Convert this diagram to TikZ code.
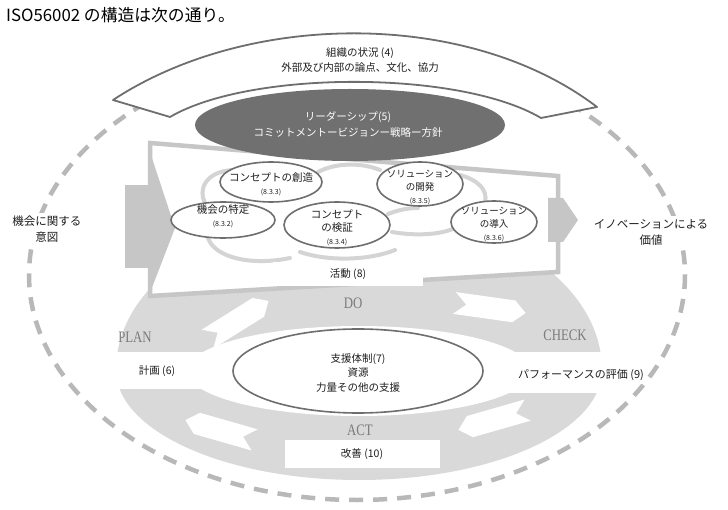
\documentclass[tikz,border=0pt]{standalone}
\usepackage{fontspec}
\setmainfont{Noto Sans CJK JP}
\newfontfamily\pdcafont[FakeStretch=0.8]{Liberation Serif}
\usetikzlibrary{positioning,calc}

\definecolor{dashgray}{HTML}{B8B8B8}
\definecolor{ringgray}{HTML}{D9D9D9}
\definecolor{framegray}{HTML}{C6C6C6}
\definecolor{swirlgray}{HTML}{D4D4D4}
\definecolor{edgegray}{HTML}{6E6E6E}
\definecolor{leadgray}{HTML}{707070}
\definecolor{pdcagray}{HTML}{7A7A7A}
\definecolor{inkgray}{HTML}{1E1E1E}

\tikzset{
    txt/.style={align=center, inner sep=1pt, text=inkgray, font=\fontsize{10.5}{14}\selectfont},
    sidetxt/.style={txt, fill=white, inner sep=3pt, font=\fontsize{11.5}{16}\selectfont},
    proctxt/.style={txt, font=\fontsize{10.5}{13}\selectfont},
    pdca/.style={text=pdcagray, font=\pdcafont\fontsize{16}{18}\selectfont, inner sep=0pt},
    proc/.style={draw=edgegray, line width=1.6pt, fill=white},
    swirl/.style={swirlgray, line width=4pt, line cap=round},
    whitebox/.style={txt, fill=white},
}
\newcommand{\secnum}[1]{{\fontsize{7}{9}\selectfont #1}}

\begin{document}
\begin{tikzpicture}[x=1pt, y=-1pt]
    \useasboundingbox (0,0) rectangle (728,510);
    \fill[white] (0,0) rectangle (728,510);

    % Title
    \node[anchor=west, inner sep=0pt, font=\fontsize{16.8}{20}\selectfont] (title) at (6,15) {ISO56002 の構造は次の通り。};

    % Outer dashed loop
    \draw[dashgray, line width=4.5pt, dash pattern=on 14pt off 10pt] (357,275) ellipse [x radius=328, y radius=225];

    % PDCA ring
    \fill[ringgray] (116,370) arc[start angle=180, end angle=360, x radius=243, y radius=160]
        arc[start angle=0, end angle=180, x radius=243, y radius=110] -- cycle;
    \fill[white] (359,371) ellipse [x radius=172, y radius=45];
    \fill[white] (110,352) rectangle (240,389);
    \fill[white] (478,352) rectangle (610,393);
    \foreach \cx/\cy/\ang in {238/320/32, 490/308/-8, 493/420/196, 220/430/164}
        \fill[white, shift={(\cx,\cy)}, rotate=\ang] (-36,-11) -- (24,-11) -- (36,0) -- (24,11) -- (-36,11) -- (-24,0) -- cycle;

    % Support in the middle
    \draw[proc] (358,371) ellipse [x radius=125, y radius=42];

    % Innovation arrow
    \fill[white] (150,143) -- (558,176) -- (558,272) -- (150,296) -- cycle;
    \draw[framegray, line width=4.5pt] (150,143) -- (558,176) -- (558,272) -- (150,296) -- cycle;
    \fill[framegray] (125,185) rectangle (150,268);
    \fill[framegray] (148,146) -- (175,228) -- (148,298) -- cycle;
    \fill[framegray] (548,198) -- (563,198) -- (578,220) -- (563,242) -- (548,242) -- cycle;

    % Swirl of the innovation processes
    \draw[swirl] (232,170) .. controls (205,172) and (198,190) .. (205,203);
    \draw[swirl] (208,238) .. controls (215,258) and (252,266) .. (290,258);
    \draw[swirl] (318,172) .. controls (335,163) and (360,162) .. (380,170);
    \draw[swirl] (460,175) .. controls (478,180) and (488,190) .. (485,202);
    \draw[swirl] (388,214) .. controls (398,210) and (408,208) .. (418,208);
    \draw[swirl] (392,232) .. controls (415,236) and (440,235) .. (455,228);
    \draw[swirl] (300,252) .. controls (330,262) and (370,260) .. (395,250);

    % Innovation processes (8.3.x)
    \draw[proc] (223,220) ellipse [x radius=52, y radius=18];
    \draw[proc] (271,182) ellipse [x radius=51, y radius=20];
    \draw[proc] (337,225) ellipse [x radius=53, y radius=23];
    \draw[proc] (420,184) ellipse [x radius=43, y radius=22];
    \draw[proc] (494,222) ellipse [x radius=43, y radius=21];
    \node[proctxt] (p832) at (223,216) {機会の特定\\\secnum{(8.3.2)}};
    \node[proctxt] (p833) at (271,184) {コンセプトの創造\\\secnum{(8.3.3)}};
    \node[proctxt] (p834) at (337,228) {コンセプト\\の検証\\\secnum{(8.3.4)}};
    \node[proctxt, font=\fontsize{9.5}{13}\selectfont] (p835) at (420,188) {ソリューション\\の開発\\\secnum{(8.3.5)}};
    \node[proctxt, font=\fontsize{9.5}{13}\selectfont] (p836) at (494,225) {ソリューション\\の導入\\\secnum{(8.3.6)}};

    % Leadership
    \fill[leadgray] (350,125) ellipse [x radius=155, y radius=36];
    \node[txt, text=white, font=\fontsize{10.5}{16}\selectfont] (lead5) at (348,125) {リーダーシップ(5)\\コミットメントービジョンー戦略ー方針};

    % Context band
    \draw[edgegray, line width=1.8pt, fill=white, line join=round]
        (113,100) .. controls (250,10) and (470,10) .. (597,107) -- (541,118)
        .. controls (460,70) and (250,70) .. (170,117) -- cycle;
    \node[txt, font=\fontsize{10.5}{15}\selectfont] (ctx4) at (360,60) {組織の状況 (4)\\外部及び内部の論点、文化、協力};

    % Boxes and PDCA labels
    \node[whitebox, minimum width=150pt, minimum height=24pt] (act8) at (348,274) {活動 (8)};
    \node[whitebox, minimum width=155pt, minimum height=28pt] (imp10) at (362,454) {改善 (10)};
    \node[pdca] (do) at (353,303) {DO};
    \node[pdca] (plan) at (135,337) {PLAN};
    \node[pdca] (check) at (565,335) {CHECK};
    \node[pdca] (act) at (360,430) {ACT};
    \node[txt] (plan6) at (157,371) {計画 (6)};
    \node[sidetxt, font=\fontsize{11}{14}\selectfont] (check9) at (581,375) {パフォーマンスの評価 (9)};
    \node[txt, font=\fontsize{10.5}{14.5}\selectfont] (sup7) at (358,373) {支援体制(7)\\資源\\力量その他の支援};

    % Intent and value
    \node[sidetxt] (intent) at (47,229) {機会に関する\\意図};
    \node[sidetxt] (value) at (651,232) {イノベーションによる\\価値};
\end{tikzpicture}
\end{document}
